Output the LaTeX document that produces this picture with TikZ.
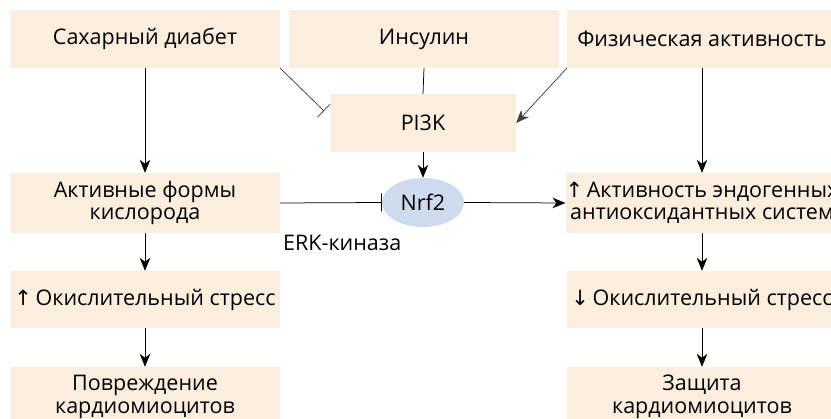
\documentclass[tikz,border=0pt]{standalone}
\usepackage{fontspec}
\setmainfont{Open Sans}
\newfontfamily\arrfont{DejaVu Sans}
\usetikzlibrary{arrows.meta,shapes.geometric}
\definecolor{boxc}{RGB}{252,238,223}
\definecolor{nrfc}{RGB}{206,218,238}
\tikzset{
  txt/.style={font=\fontsize{21.5}{22.5}\selectfont},
  box/.style={txt, fill=boxc, minimum width=270pt, minimum height=58pt, inner sep=0pt, align=center},
  conn/.style={line width=0.75pt, draw=black},
  arr/.style={conn, -{Stealth[length=13pt,width=10.5pt,inset=4pt]}},
  inh/.style={conn, -{Bar[width=18pt,line width=0.75pt]}},
}
\newcommand{\upa}{{\arrfont\fontsize{21}{21}\selectfont ↑}}
\newcommand{\dna}{{\arrfont\fontsize{21}{21}\selectfont ↓}}
\begin{document}
\begin{tikzpicture}[x=1pt,y=-1pt]
\useasboundingbox (0,0) rectangle (831,419);
\clip (0,0) rectangle (831,419);
\node[box] (sd) at (145,39) {Сахарный диабет};
\node[box] (ins) at (424,39) {Инсулин};
\node[box] (fiz) at (702,39) {Физическая активность};
\node[box, minimum width=186pt] (pi3k) at (423,123) {PI3K};
\node[box, minimum height=60pt] (afk) at (145,203) {Активные формы\\кислорода};
\node[ellipse, txt, fill=nrfc, minimum width=82pt, minimum height=49pt, inner sep=0pt] (nrf) at (423,202.5) {Nrf2};
\node[box, minimum height=60pt] (act) at (702,203) {\upa\,Активность эндогенных\\антиоксидантных систем};
\node[box, minimum height=57pt] (ox1) at (145,299.5) {\upa\,Окислительный стресс};
\node[box, minimum height=57pt] (ox2) at (702,299.5) {\dna\,Окислительный стресс};
\node[box, minimum height=60pt] (pov) at (145,397) {Повреждение\\кардиомиоцитов};
\node[box, minimum height=60pt] (zas) at (702,397) {Защита\\кардиомиоцитов};
\node[txt, anchor=west, inner sep=0pt] (erk) at (283,243) {ERK-киназа};
\coordinate (inhend) at (324,111);
\draw[arr] (sd.south) -- (afk.north);
\draw[inh, draw=black!75] (sd.south east) -- (inhend);
\draw[conn] (ins.south) -- (pi3k.north);
\draw[arr, draw=black!75] (fiz.south west) -- (pi3k.east);
\draw[arr] (fiz.south) -- (act.north);
\draw[arr] (pi3k.south) -- (nrf.north);
\draw[inh] (afk.east) -- (nrf.west);
\draw[arr] (nrf.east) -- (act.west);
\draw[arr] (afk.south) -- (ox1.north);
\draw[arr] (ox1.south) -- (pov.north);
\draw[arr] (act.south) -- (ox2.north);
\draw[arr] (ox2.south) -- (zas.north);
\end{tikzpicture}
\end{document}
